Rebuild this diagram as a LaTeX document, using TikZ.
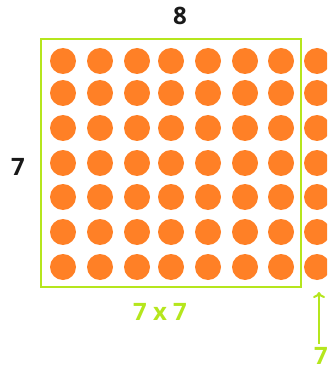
\documentclass[tikz,border=0pt]{standalone}
\usepackage{fontspec}
\setmainfont{Open Sans}
\usetikzlibrary{arrows.meta}
\definecolor{dotorange}{RGB}{255,128,38}
\definecolor{limegreen}{RGB}{181,230,29}
\tikzset{
  dot/.style={circle,fill=dotorange,inner sep=0pt,minimum size=26pt},
  numlabel/.style={font=\fontsize{24}{24}\selectfont\bfseries,text=black!90},
  greenlabel/.style={numlabel,text=limegreen}
}
\begin{document}
\begin{tikzpicture}[x=1pt,y=-1pt]
    \useasboundingbox (0,0) rectangle (327,366);
    \clip (0,0) rectangle (327,366);
    % dots, eight columns and seven rows
    \foreach \x [count=\i] in {63,100,137,171,208,245,281,317}
      \foreach \y [count=\j] in {61,93,128,163,197,232,267}
        \node[dot] (dot-\i-\j) at (\x,\y) {};
    \draw[limegreen,line width=2pt] (41,39) rectangle (301,287);
    \node[numlabel] (top) at (180,16) {8};
    \node[numlabel] (left) at (18,167) {7};
    \node[greenlabel] (prod) at (160,312) {7 x 7};
    \node[greenlabel] (extra) at (321,356) {7};
    \coordinate (tip) at (319,292);
    \draw[limegreen,line width=2pt,-{To[length=6pt,width=12pt]}] (tip |- extra.north) -- (tip);
  \end{tikzpicture}
\end{document}
